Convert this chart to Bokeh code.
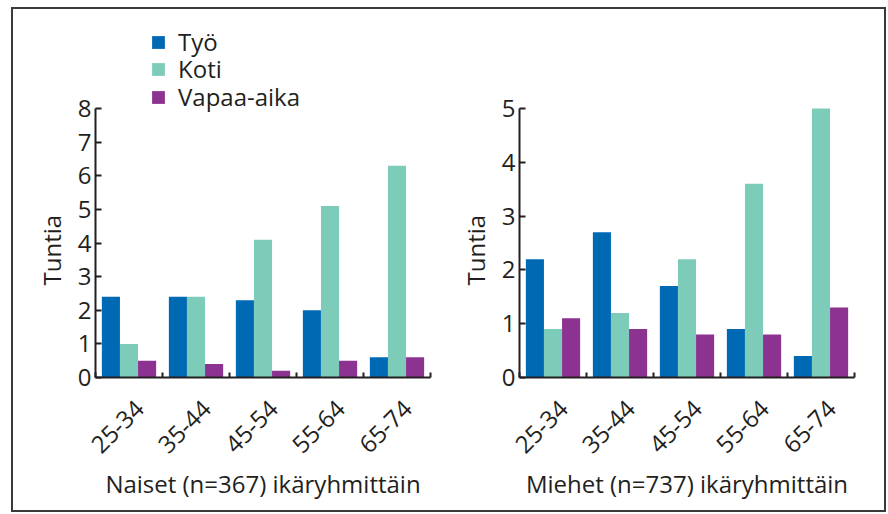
from math import pi
from bokeh.plotting import figure
from bokeh.layouts import row
from bokeh.models import (FactorRange, Range1d, LinearAxis, FixedTicker, Title,
                          Legend, LegendItem, ColumnDataSource)
from bokeh.transform import dodge
from bokeh.embed import file_html
from bokeh.resources import INLINE

# ---- data ----
ages = ["25-34", "35-44", "45-54", "55-64", "65-74"]
series = ["Työ", "Koti", "Vapaa-aika"]

naiset_tyo = [2.4, 2.4, 2.3, 2.0, 0.6]
naiset_koti = [1.0, 2.4, 4.1, 5.1, 6.3]
naiset_vapaa = [0.5, 0.4, 0.2, 0.5, 0.6]

miehet_tyo = [2.2, 2.7, 1.7, 0.9, 0.4]
miehet_koti = [0.9, 1.2, 2.2, 3.6, 5.0]
miehet_vapaa = [1.1, 0.9, 0.8, 0.8, 1.3]

naiset_ticks = [0, 1, 2, 3, 4, 5, 6, 7, 8]
miehet_ticks = [0, 1, 2, 3, 4, 5]

naiset_title = "Naiset (n=367) ikäryhmittäin"
miehet_title = "Miehet (n=737) ikäryhmittäin"
y_title = "Tuntia"

# ---- style / layout ----
colors = ["#0069B4", "#7DCCBA", "#8C3391"]
FONT = "Open Sans"
TXT = "#231F20"
FS = "24px"
BAR_W = 0.27
OFFS = [-0.27, 0.0, 0.27]
LABEL_SHIFT = 0.16   # nudge of the rotated category labels (in category widths)
HEIGHT = 501
TOP = 11             # frame top (the frame reaches up to hold the legend)
AXIS_PX = 269        # pixel length of the drawn value axis
BOTTOM = 133
FRAME_PX = HEIGHT - TOP - BOTTOM
LEGEND_ROWS_Y = [319, 292, 264]   # screen offsets of the legend rows from frame bottom


def make_chart(title, tyo, koti, vapaa, ticks, width, mb_left, mb_right):
    src = ColumnDataSource(dict(age=ages, tyo=tyo, koti=koti, vapaa=vapaa))
    y_end = ticks[-1] * FRAME_PX / AXIS_PX
    p = figure(x_range=FactorRange(*ages), y_range=Range1d(0, y_end),
               width=width, height=HEIGHT, output_backend="svg", toolbar_location=None,
               x_axis_location=None, y_axis_location=None,
               min_border_left=mb_left, min_border_right=mb_right,
               min_border_top=TOP, min_border_bottom=BOTTOM)
    p.outline_line_color = None
    p.xgrid.visible = False
    p.ygrid.visible = False
    p.background_fill_color = "white"
    p.border_fill_color = "white"

    rends = []
    for col, off, c in zip(["tyo", "koti", "vapaa"], OFFS, colors):
        r = p.vbar(x=dodge("age", off, range=p.x_range), top=col, width=BAR_W, bottom=0,
                   source=src, fill_color=c, line_color=None)
        rends.append(r)

    yax = LinearAxis(ticker=FixedTicker(ticks=ticks), bounds=(ticks[0], ticks[-1]))
    # numeric ticks on the factor range's synthetic coordinates:
    # labels near category centres, minor ticks at category boundaries
    label_pos = [i + 0.5 + LABEL_SHIFT for i in range(len(ages))]
    xax = LinearAxis(ticker=FixedTicker(ticks=label_pos,
                                        minor_ticks=list(range(len(ages) + 1))),
                     major_label_overrides={v: a for v, a in zip(label_pos, ages)},
                     major_label_orientation=pi / 4, axis_label=title)
    for ax in (xax, yax):
        ax.axis_line_color = TXT
        ax.axis_line_width = 2
        ax.major_label_text_font = FONT
        ax.major_label_text_font_size = FS
        ax.major_label_text_color = TXT
        ax.axis_label_text_font = FONT
        ax.axis_label_text_font_size = FS
        ax.axis_label_text_color = TXT
        ax.axis_label_text_font_style = "normal"
    yax.major_tick_in = 6
    yax.major_tick_out = 0
    yax.major_tick_line_width = 2
    yax.major_tick_line_color = TXT
    yax.minor_tick_line_color = None
    yax.major_label_standoff = 4

    xax.major_tick_line_color = None
    xax.minor_tick_in = 5
    xax.minor_tick_out = 0
    xax.minor_tick_line_width = 2
    xax.minor_tick_line_color = TXT
    xax.major_label_standoff = 21
    xax.axis_label_standoff = 3

    p.add_layout(yax, "left")
    p.add_layout(xax, "below")

    # value-axis title, placed along the drawn part of the axis
    ytitle = Title(text=y_title, align="left", offset=92,
                   text_font=FONT, text_font_size=FS, text_font_style="normal",
                   text_color=TXT, standoff=13)
    p.add_layout(ytitle, "left")
    return p, rends


p1, r1 = make_chart(naiset_title, naiset_tyo, naiset_koti, naiset_vapaa, naiset_ticks, 427, 82, 10)
p2, r2 = make_chart(miehet_title, miehet_tyo, miehet_koti, miehet_vapaa, miehet_ticks, 444, 79, 30)

# one legend entry per row so that the row pitch matches the original
for s, r, ly in zip(series, r1, LEGEND_ROWS_Y):
    lg = Legend(items=[LegendItem(label=s, renderers=[r])], location=(55, ly))
    lg.glyph_width = 16
    lg.glyph_height = 16
    lg.label_standoff = 12
    lg.label_height = 20
    lg.padding = 0
    lg.margin = 0
    lg.border_line_color = None
    lg.background_fill_alpha = 0
    lg.label_text_font = FONT
    lg.label_text_font_size = FS
    lg.label_text_color = TXT
    p1.add_layout(lg)

layout = row(p1, p2, margin=(7, 0, 0, 11), styles={"border": "2px solid #3a3a3a"})

open("out.html", "w").write(file_html(layout, INLINE))
